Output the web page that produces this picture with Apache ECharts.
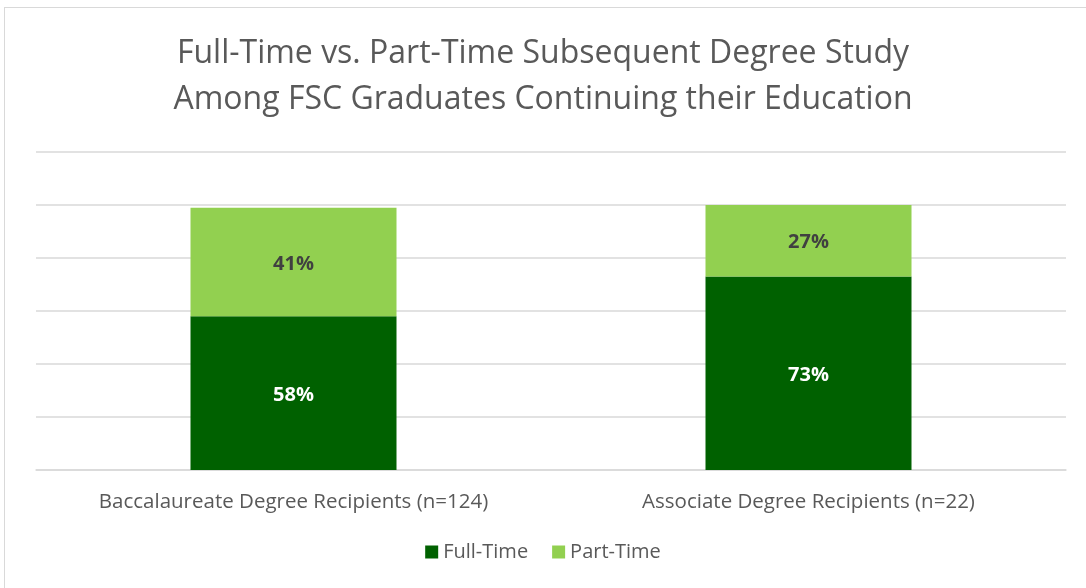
<!DOCTYPE html>
<html>
<head>
<meta charset="utf-8">
<script src="https://cdn.jsdelivr.net/npm/echarts@6/dist/echarts.min.js"></script>
<style>
  html, body { margin: 0; padding: 0; background: #fff; }
  #frame { position: absolute; left: 4px; top: 7px; width: 1090px; height: 590px; border: 1px solid #d9d9d9; box-sizing: border-box; }
  #main { position: absolute; left: 0; top: 0; width: 1086px; height: 588px; }
</style>
</head>
<body>
<div id="frame"></div>
<div id="main"></div>
<script>
var categories = ['Baccalaureate Degree Recipients (n=124)', 'Associate Degree Recipients (n=22)'];
var fullTime = [58, 73];
var partTime = [41, 27];
var seriesNames = ['Full-Time', 'Part-Time'];

var myChart = echarts.init(document.getElementById('main'));

var option = {
    animation: false,
    title: {
        text: 'Full-Time vs. Part-Time Subsequent Degree Study\nAmong FSC Graduates Continuing their Education',
        left: 'center',
        top: 26,
        textStyle: {
            fontFamily: 'Open Sans',
            fontWeight: 'normal',
            fontSize: 32,
            lineHeight: 46,
            color: '#595959'
        }
    },
    legend: {
        bottom: 21,
        left: 'center',
        itemWidth: 13,
        itemHeight: 13,
        itemGap: 24,
        icon: 'rect',
        data: seriesNames,
        textStyle: { fontFamily: 'Open Sans', fontSize: 20, color: '#595959' }
    },
    grid: { left: 36, right: 20, top: 152, bottom: 118, containLabel: false },
    xAxis: {
        type: 'category',
        data: categories,
        axisTick: { show: false },
        axisLine: { lineStyle: { color: '#d9d9d9', width: 1.5 } },
        axisLabel: { fontFamily: 'Open Sans', fontSize: 20.5, color: '#595959', margin: 22 }
    },
    yAxis: {
        type: 'value',
        min: 0,
        max: 120,
        interval: 20,
        axisLabel: { show: false },
        axisLine: { show: false },
        axisTick: { show: false },
        splitLine: { lineStyle: { color: '#d9d9d9', width: 1.5 } }
    },
    series: [
        {
            name: seriesNames[0],
            type: 'bar',
            stack: 'total',
            barWidth: '40%',
            data: fullTime,
            itemStyle: { color: '#006100' },
            label: {
                show: true,
                formatter: '{c}%',
                color: '#ffffff',
                fontWeight: 'bold',
                fontSize: 20,
                fontFamily: 'Open Sans',
                offset: [0, 2]
            }
        },
        {
            name: seriesNames[1],
            type: 'bar',
            stack: 'total',
            data: partTime,
            itemStyle: { color: '#92d050' },
            label: {
                show: true,
                formatter: '{c}%',
                color: '#404040',
                fontWeight: 'bold',
                fontSize: 20,
                fontFamily: 'Open Sans',
                offset: [0, 2]
            }
        }
    ]
};

myChart.setOption(option);
</script>
</body>
</html>
